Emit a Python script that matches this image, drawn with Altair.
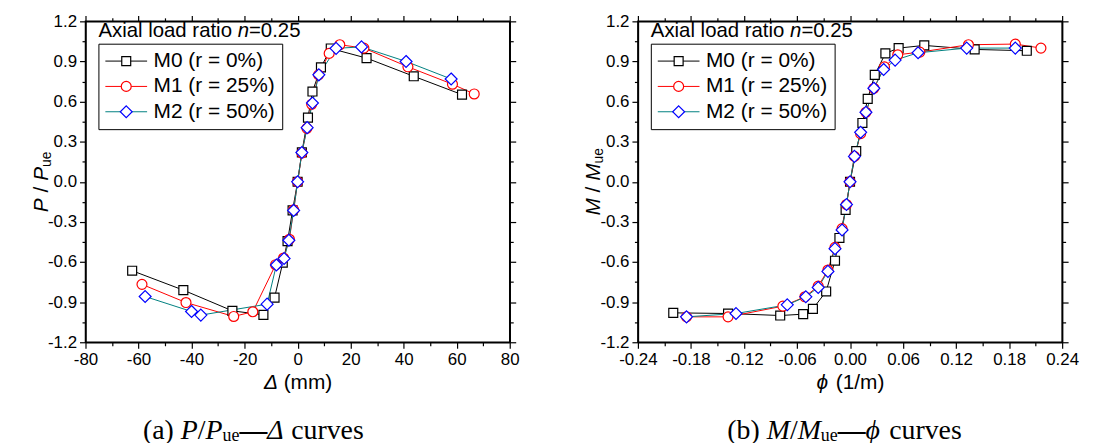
import altair as alt
import pandas as pd

SANS = "Liberation Sans"
SERIF = "Liberation Serif"

SERIES = ["M0 (r = 0%)", "M1 (r = 25%)", "M2 (r = 50%)"]
LINE_COLORS = ["#000000", "#ff0000", "#008080"]
MARK_COLORS = ["#000000", "#ff0000", "#0000ff"]
MARK_SHAPES = ["M-0.9,-0.9H0.9V0.9H-0.9Z", "circle", "M0,-1.2L1.2,0L0,1.2L-1.2,0Z"]

# (a) P/Pue - Delta (mm)
A_M0_X = [-62.4, -43.1, -24.6, -12.9, -8.7, -5.6, -3.8, -1.9, 0.0, 1.6, 3.9, 5.6, 8.8, 12.5, 26.0, 43.8, 62.0]
A_M0_Y = [-0.665, -0.81, -0.965, -0.995, -0.866, -0.605, -0.444, -0.214, 0.0, 0.22, 0.48, 0.675, 0.856, 0.997, 0.925, 0.789, 0.652]
A_M1_X = [-58.7, -42.1, -24.1, -16.9, -8.3, -5.3, -3.1, -1.5, 0.0, 1.6, 3.5, 5.3, 7.9, 11.9, 15.9, 25.0, 41.6, 58.4, 66.6]
A_M1_Y = [-0.767, -0.903, -1.007, -0.972, -0.62, -0.57, -0.43, -0.21, 0.0, 0.215, 0.40, 0.58, 0.80, 0.96, 1.025, 1.0, 0.86, 0.73, 0.657]
A_M2_X = [-57.5, -40.0, -36.5, -11.5, -8.0, -5.1, -3.3, -1.5, 0.0, 1.6, 3.6, 5.6, 8.0, 14.5, 24.1, 40.9, 57.9]
A_M2_Y = [-0.858, -0.97, -0.997, -0.915, -0.622, -0.574, -0.437, -0.214, 0.0, 0.219, 0.405, 0.589, 0.80, 0.998, 1.009, 0.90, 0.769]

# (b) M/Mue - phi (1/m)
B_M0_X = [-0.200, -0.138, -0.079, -0.053, -0.042, -0.027, -0.017, -0.012, -0.005, 0.0, 0.007, 0.014, 0.020, 0.028, 0.040, 0.055, 0.084, 0.141, 0.200]
B_M0_Y = [-0.98, -0.985, -1.0, -0.99, -0.95, -0.82, -0.59, -0.42, -0.21, 0.0, 0.23, 0.44, 0.62, 0.80, 0.96, 1.0, 1.02, 0.99, 0.98]
B_M1_X = [-0.185, -0.138, -0.076, -0.051, -0.036, -0.025, -0.017, -0.009, -0.004, 0.0, 0.005, 0.012, 0.018, 0.027, 0.039, 0.054, 0.079, 0.134, 0.187, 0.216]
B_M1_Y = [-1.01, -1.01, -0.93, -0.86, -0.78, -0.66, -0.49, -0.35, -0.17, 0.0, 0.19, 0.36, 0.52, 0.70, 0.86, 0.95, 0.97, 1.025, 1.03, 1.0]
B_M2_X = [-0.185, -0.129, -0.071, -0.050, -0.036, -0.025, -0.017, -0.009, -0.004, 0.0, 0.005, 0.012, 0.018, 0.027, 0.038, 0.051, 0.077, 0.132, 0.187]
B_M2_Y = [-1.01, -0.985, -0.92, -0.86, -0.79, -0.67, -0.50, -0.36, -0.17, 0.0, 0.19, 0.37, 0.52, 0.70, 0.84, 0.91, 0.965, 1.0, 1.0]

A_X_TICKS = [-80, -70, -60, -50, -40, -30, -20, -10, 0, 10, 20, 30, 40, 50, 60, 70, 80]
B_X_TICKS = [-0.24, -0.21, -0.18, -0.15, -0.12, -0.09, -0.06, -0.03, 0.0, 0.03, 0.06, 0.09, 0.12, 0.15, 0.18, 0.21, 0.24]
Y_TICKS = [-1.2, -1.05, -0.9, -0.75, -0.6, -0.45, -0.3, -0.15, 0.0, 0.15, 0.3, 0.45, 0.6, 0.75, 0.9, 1.05, 1.2]

W_SANS = {' ': 278, '(': 333, ')': 333, '/': 278, '=': 584, '%': 889, '.': 278, 'A': 667, 'M': 833,
          'P': 667, 'a': 556, 'd': 556, 'e': 556, 'i': 222, 'l': 222, 'm': 833, 'n': 556, 'o': 556,
          'r': 333, 't': 278, 'u': 556, 'x': 500, 'Δ': 668, 'ϕ': 640}
W_SERIF = {' ': 250, '(': 333, ')': 333, 'a': 444, 'b': 500, 'c': 444, 'e': 444, 'r': 333, 's': 389,
           'u': 500, 'v': 500, '/': 278, '—': 1000, 'P': 611, 'M': 833, 'Δ': 612, 'ϕ': 600}

ONE = pd.DataFrame({"k": [0]})


def width(s, table, size):
    return sum(table.get(c, 556) for c in s) / 1000.0 * size


def lead(s, table, size):
    n = len(s) - len(s.lstrip(" "))
    return width(" " * n, table, size)


def T(s, x, y, size, style="normal", angle=0, font=SANS, weight="normal"):
    return alt.Chart(ONE).mark_text(
        x=x, y=y, fontSize=size, fontStyle=style, fontWeight=weight, angle=angle, font=font,
        align="left", baseline="middle", color="black"
    ).encode(text=alt.value(s.strip()))


def hrun(pieces, xc, y, font, table, left=False):
    total = sum(width(p[0], table, p[2]) for p in pieces)
    x = xc if left else xc - total / 2
    out = []
    for p in pieces:
        s, st, sz, dy = p[:4]
        wt = p[4] if len(p) > 4 else "normal"
        out.append(T(s, x + lead(s, table, sz), y + dy, sz, st, 0, font, wt))
        x += width(s, table, sz)
    return out


def vrun(pieces, x, yc, font, table):
    total = sum(width(s, table, sz) for s, _, sz, _ in pieces)
    y = yc + total / 2
    out = []
    for s, st, sz, dx in pieces:
        out.append(T(s, x + dx, y - lead(s, table, sz), sz, st, 270, font))
        y -= width(s, table, sz)
    return out


def frame(xs_list, ys_list):
    rows = []
    for s, xs, ys in zip(SERIES, xs_list, ys_list):
        for i, (x, y) in enumerate(zip(xs, ys)):
            rows.append({"series": s, "Series": s, "x": x, "y": y, "idx": i})
    return pd.DataFrame(rows)


def axis(orient, vals, test, fmt, labels=True):
    kw = dict(orient=orient, values=vals, title=None, grid=False, domainColor="black", domainWidth=1.5,
              tickColor="black", tickWidth=1.2,
              tickSize={"condition": {"test": test, "value": 6}, "value": 3.5}, labels=labels)
    if labels:
        kw.update(labelExpr=f"({test}) ? replace(format(datum.value, '{fmt}'), '\u2212', '-') : ''",
                  labelFont=SANS, labelFontSize=17, labelColor="black", labelPadding=3,
                  labelFlush=False, labelOverlap=False)
    return alt.Axis(**kw)


LEG_X, LEG_Y = 13, 22.5
legA = alt.Legend(orient="none", legendX=LEG_X, legendY=LEG_Y, direction="vertical", title=None,
                  symbolType="M-4.2,0H4.2", symbolSize=100, symbolStrokeWidth=1, symbolOffset=10.5,
                  labelOffset=17, labelFont=SANS, labelFontSize=21, labelColor="black",
                  padding=7, rowPadding=3.5, strokeColor="black")
legB = alt.Legend(orient="none", legendX=LEG_X, legendY=LEG_Y, direction="vertical", title=None,
                  symbolSize=100, symbolStrokeWidth=1.2, symbolOffset=10.5, symbolFillColor="white",
                  labelOffset=17, labelFont=SANS, labelFontSize=21, labelOpacity=0,
                  padding=7, rowPadding=3.5)


def panel(df, xdom, xticks, xtest, xfmt, texts):
    xs = alt.Scale(domain=xdom, nice=False, zero=False)
    ys = alt.Scale(domain=[-1.2, 1.2], nice=False, zero=False)
    ytest = "round(abs(datum.value) * 100) % 30 == 0"
    base = alt.Chart(df)
    lines = base.mark_line(strokeWidth=1).encode(
        x=alt.X("x:Q", scale=xs, axis=axis("bottom", xticks, xtest, xfmt)),
        y=alt.Y("y:Q", scale=ys, axis=axis("left", Y_TICKS, ytest, ".1f")),
        color=alt.Color("series:N", scale=alt.Scale(domain=SERIES, range=LINE_COLORS), legend=legA),
        order="idx:Q",
    )
    pts = base.mark_point(filled=True, fill="white", strokeWidth=1.2, size=100, opacity=1).encode(
        x=alt.X("x:Q", scale=xs, axis=None),
        y=alt.Y("y:Q", scale=ys, axis=None),
        shape=alt.Shape("Series:N", scale=alt.Scale(range=MARK_SHAPES), legend=legB),
        stroke=alt.Stroke("Series:N", scale=alt.Scale(range=MARK_COLORS), legend=legB),
    )
    box = base.mark_point(opacity=0).encode(
        x=alt.X("x:Q", scale=xs, axis=axis("top", xticks, xtest, xfmt, labels=False)),
        y=alt.Y("y:Q", scale=ys, axis=axis("right", Y_TICKS, ytest, ".1f", labels=False)),
    )
    return alt.layer(lines, pts, box, *texts).resolve_axis(x="independent", y="independent").properties(
        width=427, height=323)


def legend_title():
    return hrun([("Axial load ratio ", "normal", 20.5, 0), ("n", "italic", 20.5, 0),
                 ("=0.25", "normal", 20.5, 0)], 13, 10, SANS, W_SANS, left=True)


texts_a = (
    legend_title()
    + hrun([("Δ", "italic", 21, 0), (" (mm)", "normal", 21, 0)], 214, 364, SANS, W_SANS)
    + vrun([("P", "italic", 21, 0), (" / ", "normal", 21, 0), ("P", "italic", 21, 0),
            ("ue", "normal", 14, 5)], -44, 161.5, SANS, W_SANS)
    + hrun([("(a) ", "normal", 28, 0), ("P", "italic", 28, 0), ("/", "normal", 28, 0),
            ("P", "italic", 28, 0), ("ue", "normal", 18, 5), ("—", "normal", 28, 0, "bold"),
            ("Δ", "italic", 28, 0), (" curves", "normal", 28, 0)], 169, 412, SERIF, W_SERIF)
)
texts_b = (
    legend_title()
    + hrun([("ϕ", "italic", 21, 0), (" (1/m)", "normal", 21, 0)], 214, 364, SANS, W_SANS)
    + vrun([("M", "italic", 21, 0), (" / ", "normal", 21, 0), ("M", "italic", 21, 0),
            ("ue", "normal", 14, 5)], -44, 161.5, SANS, W_SANS)
    + hrun([("(b) ", "normal", 28, 0), ("M", "italic", 28, 0), ("/", "normal", 28, 0),
            ("M", "italic", 28, 0), ("ue", "normal", 18, 5), ("—", "normal", 28, 0, "bold"),
            ("ϕ", "italic", 28, 0), (" curves", "normal", 28, 0)], 208, 412, SERIF, W_SERIF)
)

df_a = frame([A_M0_X, A_M1_X, A_M2_X], [A_M0_Y, A_M1_Y, A_M2_Y])
df_b = frame([B_M0_X, B_M1_X, B_M2_X], [B_M0_Y, B_M1_Y, B_M2_Y])

left = panel(df_a, [-80, 80], A_X_TICKS, "datum.value % 20 == 0", "d", texts_a)
right = panel(df_b, [-0.24, 0.24], B_X_TICKS, "round(abs(datum.value) * 100) % 6 == 0", ".2f", texts_b)

chart = alt.hconcat(left, right, spacing=62).resolve_scale(
    x="independent", y="independent", color="independent", stroke="independent", shape="independent"
).resolve_legend(color="independent", stroke="independent", shape="independent").properties(
    padding={"left": 22, "top": 2, "right": 5, "bottom": 2}, background="white"
).configure_view(stroke="black", strokeWidth=1.5)

chart.save("out.html", embed_options={"renderer": "svg", "actions": False})
